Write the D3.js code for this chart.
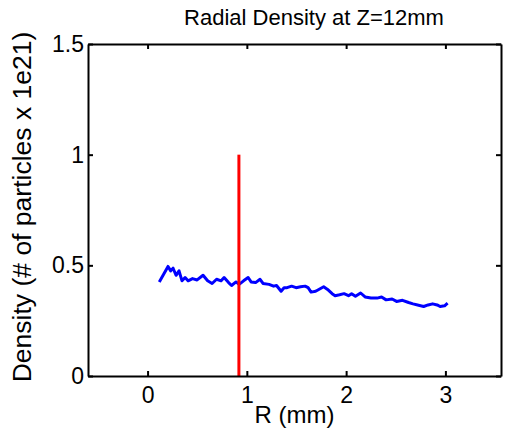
<!DOCTYPE html>
<html>
<head>
<meta charset="utf-8">
<script src="https://cdn.jsdelivr.net/npm/d3@7"></script>
<style>
  html, body { margin: 0; padding: 0; background: #fff; }
  svg { display: block; font-family: "Liberation Sans", Arial, sans-serif; }
</style>
</head>
<body>
<svg id="chart" width="531" height="434"></svg>
<script>
// ---- data ----
const titleText = "Radial Density at Z=12mm";
const xLabelText = "R (mm)";
const yLabelText = "Density (# of particles x 1e21)";
const xTicks = [0, 1, 2, 3];
const yTicks = [0, 0.5, 1, 1.5];
const yTickLabels = ["0", "0.5", "1", "1.5"];
const radius = [0.118, 0.206, 0.233, 0.257, 0.287, 0.317, 0.347, 0.378, 0.408, 0.453, 0.499, 0.559, 0.605, 0.650, 0.695, 0.741, 0.771, 0.816, 0.846, 0.891, 0.922, 0.967, 1.013, 1.043, 1.088, 1.133, 1.163, 1.224, 1.269, 1.299, 1.345, 1.375, 1.405, 1.451, 1.496, 1.541, 1.587, 1.617, 1.647, 1.693, 1.738, 1.774, 1.813, 1.859, 1.889, 1.934, 1.979, 2.024, 2.055, 2.094, 2.146, 2.191, 2.251, 2.312, 2.357, 2.403, 2.463, 2.508, 2.568, 2.629, 2.674, 2.720, 2.781, 2.826, 2.871, 2.917, 2.947, 2.992, 3.022];
const density = [0.425, 0.495, 0.475, 0.487, 0.455, 0.475, 0.430, 0.445, 0.430, 0.440, 0.434, 0.455, 0.430, 0.418, 0.437, 0.430, 0.445, 0.422, 0.409, 0.425, 0.414, 0.430, 0.445, 0.425, 0.422, 0.437, 0.418, 0.414, 0.406, 0.409, 0.383, 0.399, 0.399, 0.406, 0.399, 0.403, 0.406, 0.399, 0.379, 0.383, 0.394, 0.403, 0.391, 0.372, 0.363, 0.367, 0.372, 0.363, 0.372, 0.360, 0.375, 0.357, 0.352, 0.352, 0.357, 0.344, 0.348, 0.337, 0.342, 0.332, 0.326, 0.321, 0.314, 0.321, 0.326, 0.321, 0.314, 0.317, 0.329];
const markerX = [0.92, 0.92];
const markerY = [0, 1];
const xDomain = [-0.6, 3.56];
const yDomain = [0, 1.5];

// ---- layout ----
const svg = d3.select("#chart");
const m = { left: 88, right: 501, top: 44, bottom: 376 };
const x = d3.scaleLinear().domain(xDomain).range([m.left, m.right]);
const y = d3.scaleLinear().domain(yDomain).range([m.bottom, m.top]);

// plot lines
const line = d3.line().x(d => x(d[0])).y(d => y(d[1]));
svg.append("path")
  .datum(radius.map((r, i) => [r, density[i]]))
  .attr("d", line)
  .attr("fill", "none")
  .attr("stroke", "#0000ff")
  .attr("stroke-width", 3)
  .attr("stroke-linejoin", "round");

svg.append("path")
  .datum(markerX.map((v, i) => [v, markerY[i]]))
  .attr("d", line)
  .attr("fill", "none")
  .attr("stroke", "#ff0000")
  .attr("stroke-width", 3);

// axes (MATLAB-style: inward ticks on all sides)
const tickLen = 5;
const fontTick = 23;
const bottomAxis = d3.axisBottom(x).tickValues(xTicks).tickSizeInner(-tickLen).tickSizeOuter(0).tickPadding(11).tickFormat(d3.format("d"));
const topAxis = d3.axisTop(x).tickValues(xTicks).tickSizeInner(-tickLen).tickSizeOuter(0).tickFormat("");
const leftAxis = d3.axisLeft(y).tickValues(yTicks).tickSizeInner(-tickLen).tickSizeOuter(0).tickPadding(4).tickFormat((d, i) => yTickLabels[i]);
const rightAxis = d3.axisRight(y).tickValues(yTicks).tickSizeInner(-tickLen).tickSizeOuter(0).tickFormat("");

function style(g) {
  g.select(".domain").attr("stroke", "#000").attr("stroke-width", 2);
  g.selectAll(".tick line").attr("stroke", "#000").attr("stroke-width", 2);
  g.selectAll(".tick text").attr("fill", "#000").attr("font-size", fontTick).attr("font-family", "Liberation Sans, Arial, sans-serif");
}
svg.append("g").attr("transform", `translate(0,${m.bottom})`).call(bottomAxis).call(style);
svg.append("g").attr("transform", `translate(0,${m.top})`).call(topAxis).call(style);
svg.append("g").attr("transform", `translate(${m.left},0)`).call(leftAxis).call(style);
svg.append("g").attr("transform", `translate(${m.right},0)`).call(rightAxis).call(style);

// texts
const cx = (m.left + m.right) / 2;
svg.append("text").attr("x", 314).attr("y", 25).attr("text-anchor", "middle")
  .attr("font-size", 22).attr("fill", "#000").text(titleText);
svg.append("text").attr("x", cx).attr("y", 423).attr("text-anchor", "middle")
  .attr("font-size", 24).attr("fill", "#000").text(xLabelText);
svg.append("text").attr("transform", `translate(31,207) rotate(-90)`)
  .attr("text-anchor", "middle").attr("font-size", 26.5).attr("fill", "#000").text(yLabelText);
</script>
</body>
</html>
